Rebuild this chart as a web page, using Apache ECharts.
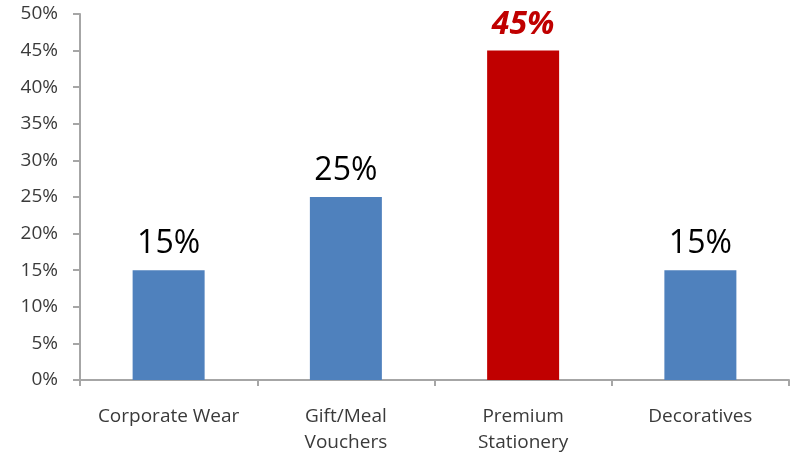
<!DOCTYPE html>
<html>
<head>
<meta charset="utf-8">
<script src="https://cdn.jsdelivr.net/npm/echarts@6/dist/echarts.min.js"></script>
<style>
  html, body { margin: 0; padding: 0; background: #fff; }
  #main { width: 791px; height: 457px; }
</style>
</head>
<body>
<div id="main"></div>
<script>
// data
var categories = ['Corporate Wear', 'Gift/Meal\nVouchers', 'Premium\nStationery', 'Decoratives']
var shares = [15, 25, 45, 15]
var highlightIndex = 2
var yTicks = { min: 0, max: 50, interval: 5 }

var myChart = echarts.init(document.getElementById('main'))

// the highlighted bar gets its own colour and an italic bold label
var barData = shares.map(function(v, i) {
  if (i !== highlightIndex) return v
  return {
    value: v,
    itemStyle: { color: '#C00000' },
    label: { color: '#C00000', fontStyle: 'italic', fontWeight: 'bold' }
  }
})

var option = {
  animation: false,
  grid: { left: 80, right: 2, top: 14, bottom: 77 },
  xAxis: {
    type: 'category',
    data: categories,
    axisLine: { lineStyle: { color: '#a6a6a6', width: 2 } },
    axisTick: { show: true, length: 6, lineStyle: { color: '#a6a6a6', width: 2 } },
    axisLabel: {
      interval: 0,
      margin: 24,
      color: '#3a3a3a',
      fontFamily: 'Open Sans',
      fontSize: 19,
      lineHeight: 26
    }
  },
  yAxis: {
    type: 'value',
    min: yTicks.min,
    max: yTicks.max,
    interval: yTicks.interval,
    splitLine: { show: false },
    axisLine: { show: true, lineStyle: { color: '#a6a6a6', width: 2 } },
    axisTick: { show: true, length: 7, lineStyle: { color: '#a6a6a6', width: 2 } },
    axisLabel: {
      margin: 22,
      color: '#3a3a3a',
      fontFamily: 'Open Sans',
      fontSize: 19,
      formatter: '{value}%'
    }
  },
  series: [{
    type: 'bar',
    data: barData,
    barWidth: 72,
    itemStyle: { color: '#4F81BD' },
    label: {
      show: true,
      position: 'top',
      distance: 10,
      formatter: '{c}%',
      color: '#000',
      fontFamily: 'Open Sans',
      fontSize: 32
    }
  }]
}

myChart.setOption(option, true)
window.onresize = () => {
  myChart.resize()
}
</script>
</body>
</html>
